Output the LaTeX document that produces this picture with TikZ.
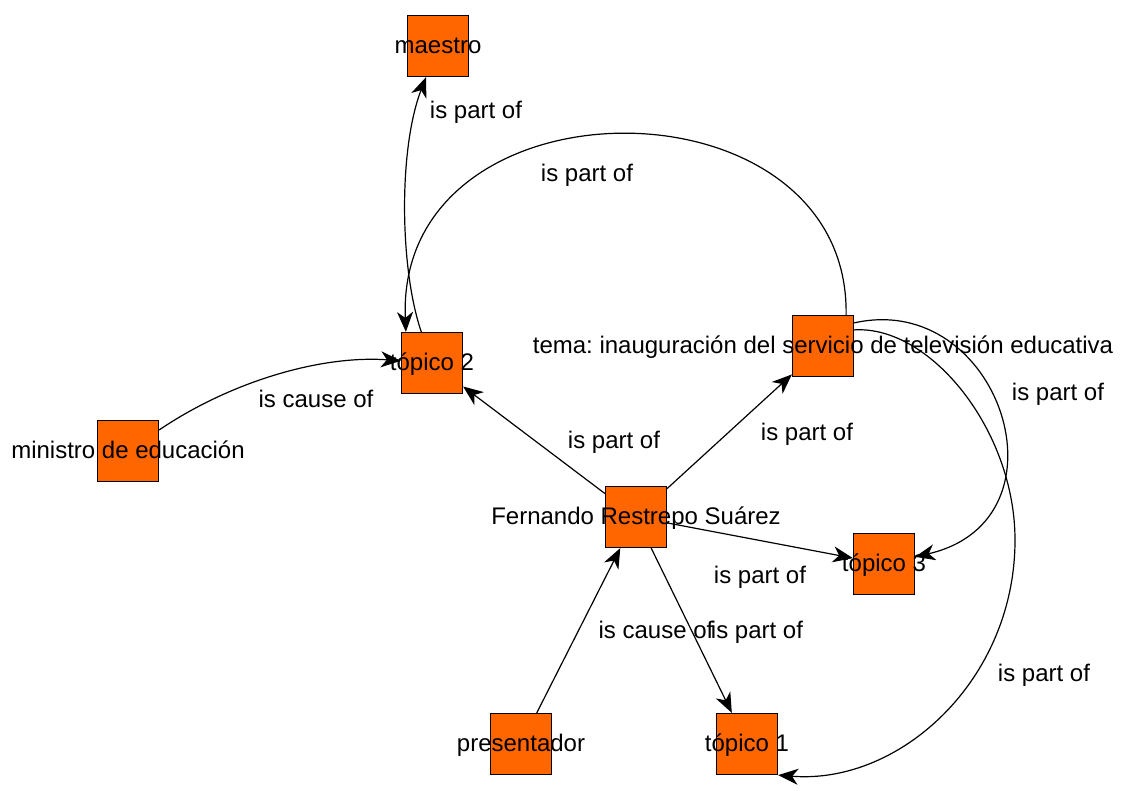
\documentclass[tikz,border=0pt]{standalone}
\usepackage{fontspec}
\setmainfont{Liberation Sans}
\frenchspacing
\usetikzlibrary{arrows.meta}
\definecolor{conceptorange}{RGB}{255,102,0}
\tikzset{%
	concept/.style={
		rectangle,
		draw,
		fill=conceptorange,
		minimum size=61pt,
		inner sep=0pt
	},
	concept text/.style={
		text height=18pt,
		text depth=4pt,
		inner sep=0pt,
		font=\fontsize{24}{28}\selectfont
	},
	edge text/.style={
		concept text
	},
	link/.style={
		-{Stealth[length=20pt,width=16pt,inset=6pt]}
	},
}

\begin{document}
\begin{tikzpicture}[x=1pt, y=-1pt, line width=1.2pt]

			\useasboundingbox (0,0) rectangle (1123,790);

			\foreach \n/\x/\y/\l in {maestro/438/46/maestro,
				topico-2/432/363/tópico 2,
				tema/823/346/tema: inauguración del servicio de televisión educativa,
				ministro/128/451/ministro de educación,
				fernando/636/517/Fernando Restrepo Suárez,
				topico-3/884/564/tópico 3,
				presentador/521/744/presentador,
				topico-1/747/744/tópico 1}
			\node [concept, label={[concept text]center:\l}] (\n) at (\x,\y) {};

			\foreach \a/\b in {fernando/topico-2, fernando/tema, fernando/topico-3,
				fernando/topico-1, presentador/fernando}
			\draw [link] (\a) -- (\b);

			\draw [link] (ministro) .. controls (230,382) and (320,355) .. (topico-2);
			\draw [link] (topico-2) .. controls (400,270) and (398,150) .. (maestro);
			\draw [link] ([xshift=-8pt]tema.north east) .. controls (850,72) and (395,72) .. ([xshift=5pt]topico-2.north west);
			\draw [link] ([yshift=-8pt]tema.north east) .. controls (1000,290) and (1075,520) .. (topico-3);
			\draw [link] ([yshift=-15pt]tema.north east) .. controls (930,325) and (1015,430) .. (1015,540)
				.. controls (1015,680) and (900,785) .. (topico-1.south east);

			\foreach \x/\y/\l [count=\i] in {476/111/is part of, 587/174/is part of,
				316/400/is cause of, 614/441/is part of, 807/433/is part of,
				1058/393/is part of, 760/576/is part of, 656/631/is cause of,
				757/631/is part of, 1044/674/is part of}
			\node [edge text] (label-\i) at (\x,\y) {\l};

\end{tikzpicture}
\end{document}
